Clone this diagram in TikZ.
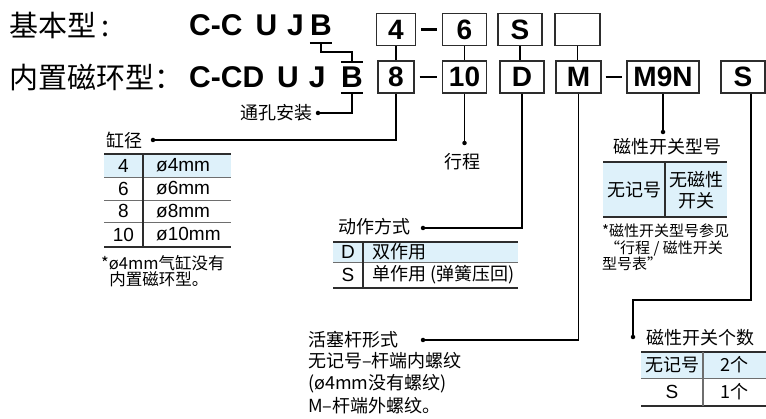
\documentclass[tikz,border=0pt]{standalone}
\usepackage{fontspec}
\setmainfont{Noto Sans CJK SC}
\newfontfamily\codefont{Liberation Sans}
\usetikzlibrary{positioning}

\definecolor{tabblue}{RGB}{222,241,250}
\definecolor{darkline}{RGB}{45,45,45}
\definecolor{thinline}{RGB}{110,110,110}

\begin{document}
\begin{tikzpicture}[x=1pt, y=-1pt,
    codebox/.style={draw=darkline, line width=1.3pt, minimum height=32pt, inner sep=0pt,
        font=\codefont\bfseries\fontsize{28}{28}\selectfont},
    codetxt/.style={inner sep=0pt, font=\codefont\bfseries\fontsize{30}{30}\selectfont},
    titletxt/.style={inner sep=0pt, font=\fontsize{29}{29}\selectfont},
    captxt/.style={inner sep=0pt, font=\fontsize{18}{22}\selectfont},
    notetxt/.style={inner sep=0pt, align=left, font=\fontsize{15}{16.5}\selectfont},
    tabtxt/.style={inner sep=0pt, font=\codefont\fontsize{19}{22}\selectfont},
    tabcjk/.style={inner sep=0pt, align=center, font=\fontsize{18}{21}\selectfont},
    wire/.style={draw=black, line width=1.1pt},
    dashbar/.style={draw=black, line width=2.6pt},
    dotmark/.style={circle, fill=black, inner sep=0pt, minimum size=4.5pt},
    ruleline/.style={draw=darkline, line width=1.8pt},
    rowline/.style={draw=thinline, line width=0.9pt}]
    \useasboundingbox (0,0) rectangle (766,419);

    % model codes
    \node[titletxt, anchor=west] (titleA) at (9,25) {基本型\,:};
    \node[titletxt, anchor=west] (titleB) at (9,77) {内置磁环型：};
    \node[codetxt, anchor=base west] (codeA) at (189,36) {C-C\hspace{13pt}U\hspace{10pt}J};
    \node[codetxt, anchor=base] (bA) at (321,36) {B};
    \node[codetxt, anchor=base west] (codeB) at (189,88) {C-CD\hspace{13pt}U\hspace{10pt}J};
    \node[codetxt, anchor=base] (bB) at (352,88) {B};

    \node[codebox, minimum width=39pt] (box4) at (396,29.5) {4};
    \node[codebox, minimum width=44pt] (box6) at (464.5,29.5) {6};
    \node[codebox, minimum width=44pt] (boxS) at (520,29.5) {S};
    \node[codebox, minimum width=45pt] (boxE) at (577.5,29.5) {};

    \node[codebox, minimum width=36pt] (box8) at (396,77) {8};
    \node[codebox, minimum width=44pt] (box10) at (464.5,77) {10};
    \node[codebox, minimum width=44pt] (boxD) at (522,77) {D};
    \node[codebox, minimum width=45pt] (boxM) at (578.5,77) {M};
    \node[codebox, minimum width=72pt] (boxMN) at (663,77) {M9N};
    \node[codebox, minimum width=44pt] (boxSN) at (743,77) {S};

    \draw[dashbar] ([xshift=5pt]box4.east) -- ([xshift=-5pt]box6.west);
    \draw[dashbar] ([xshift=5pt]box8.east) -- ([xshift=-5pt]box10.west);
    \draw[dashbar] ([xshift=4pt]boxM.east) -- ([xshift=-4pt]boxMN.west);

    \draw[wire] (box4) -- (box8);
    \draw[wire] (box6) -- (box10);
    \draw[wire] (boxS.south) -- (boxS.south |- boxD.north);
    \draw[wire] (boxE.south) -- (boxE.south |- boxM.north);

    % B bracket
    \draw[wire] ([yshift=-7pt]bA.base west) -- ([yshift=-7pt]bA.base east);
    \draw[wire] ([yshift=-7pt]bA.base) -- ++(0,9) -| ([yshift=26pt]bB.base);
    \draw[wire] ([yshift=26pt]bB.base west) -- ([yshift=26pt]bB.base east);
    \draw[wire] ([yshift=-5pt]bB.base west) -- ([yshift=-5pt]bB.base east);
    \node[dotmark] (dotHole) at (318,113) {};
    \node[captxt, anchor=east] (holeTxt) at (313,113) {通孔安装};
    \draw[wire] ([yshift=-5pt]bB.base) |- (dotHole);

    % bore
    \node[dotmark] (dotBore) at (153,140) {};
    \node[captxt, anchor=east] (boreTxt) at (143,141) {缸径};
    \draw[wire] (box8.south) |- (dotBore);
    \fill[tabblue] (104,154) rectangle (231,177);
    \foreach \y in {177,200,222}
        \draw[rowline] (104,\y) -- (231,\y);
    \draw[ruleline] (104,154) -- (231,154);
    \draw[ruleline] (104,247) -- (231,247);
    \draw[ruleline] (143,154) -- (143,247);
    \foreach \n/\yc in {4/165.5, 6/188.5, 8/211, 10/234.5} {
        \node[tabtxt] (boreN\n) at (123.5,\yc) {\n};
        \node[tabtxt, anchor=west] (boreV\n) at (156,\yc) {ø\n mm};
    }
    \node[notetxt, anchor=north west, font=\fontsize{16.5}{16.5}\selectfont] (boreNote) at (101,255)
        {*ø4mm气缸没有\\\hspace{0.5em}内置磁环型。};

    % stroke
    \node[dotmark] (dotStroke) at (464.5,143) {};
    \draw[wire] (box10) -- (dotStroke);
    \node[captxt] (strokeTxt) at (462,162) {行程};

    % action
    \node[dotmark] (dotAct) at (423,228) {};
    \node[captxt, anchor=east] (actTxt) at (411,227) {动作方式};
    \draw[wire] (boxD.south) |- (dotAct);
    \fill[tabblue] (333,242) rectangle (518,262);
    \draw[rowline] (333,262) -- (518,262);
    \draw[ruleline] (333,242) -- (518,242);
    \draw[ruleline] (333,288) -- (518,288);
    \draw[ruleline] (363,242) -- (363,288);
    \node[tabtxt] (actD) at (348,252) {D};
    \node[captxt, anchor=west] (actDTxt) at (372,252) {双作用};
    \node[tabtxt] (actS) at (348,275) {S};
    \node[captxt, anchor=west] (actSTxt) at (372,275) {单作用 (弹簧压回)};

    % rod end
    \node[dotmark] (dotRod) at (423,340) {};
    \node[captxt, anchor=west] (rodTxt) at (308,340) {活塞杆形式};
    \draw[wire] (boxM.south) |- (dotRod);
    \node[captxt, anchor=north west, align=left, font=\fontsize{18}{22.5}\selectfont] (rodNote) at (308,352)
        {无记号–杆端内螺纹\\(ø4mm没有螺纹)\\M–杆端外螺纹。};

    % switch model
    \node[dotmark] (dotSw) at (663,132) {};
    \draw[wire] (boxMN) -- (dotSw);
    \node[captxt] (swTxt) at (667,147) {磁性开关型号};
    \fill[tabblue] (603,162) rectangle (727,217);
    \draw[ruleline] (603,162) -- (727,162);
    \draw[ruleline] (603,217) -- (727,217);
    \draw[ruleline] (665,162) -- (665,217);
    \node[tabcjk] (swNone) at (634,190) {无记号};
    \node[tabcjk] (swNoMag) at (696,190) {无磁性\\开关};
    \node[notetxt, anchor=north west] (swNote) at (602,224) {*磁性开关型号参见\\\hspace{0.2em}“行程 / 磁性开关\\型号表”};

    % switch count
    \coordinate (bendCnt) at (633,300);
    \node[dotmark] (dotCnt) at (633,337) {};
    \draw[wire] ([xshift=8pt]boxSN.south) |- (bendCnt) -- (dotCnt);
    \node[captxt, anchor=west] (cntTxt) at (646,338) {磁性开关个数};
    \fill[tabblue] (641,352) rectangle (766,378);
    \draw[rowline] (641,378) -- (766,378);
    \draw[ruleline] (641,352) -- (766,352);
    \draw[ruleline] (641,406) -- (766,406);
    \draw[rowline, line width=1.3pt] (703,352) -- (703,406);
    \node[tabcjk] (cntNone) at (672,365) {无记号};
    \node[tabcjk] (cnt2) at (734,365) {2个};
    \node[tabtxt] (cntS) at (672,392) {S};
    \node[tabcjk] (cnt1) at (734,392) {1个};
\end{tikzpicture}
\end{document}
